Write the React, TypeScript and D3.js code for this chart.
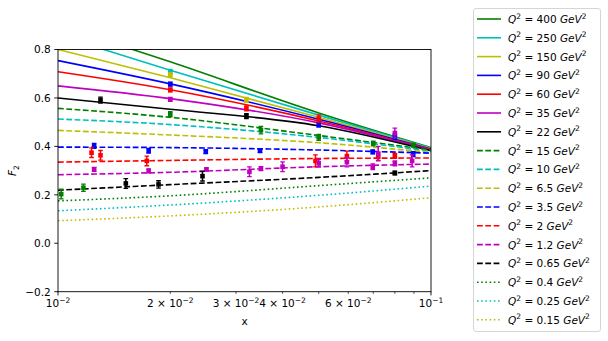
import React, { useEffect, useRef } from "react";
import * as d3 from "d3";

// Q^2 values of the fitted curves (legend order)
const q2Labels = ["400", "250", "150", "90", "60", "35", "22", "15", "10", "6.5", "3.5", "2", "1.2", "0.65", "0.4", "0.25", "0.15"];

const xGrid = [0.01, 0.02, 0.05, 0.1];

// F2 of each curve at xGrid, same order as q2Labels
const curveValues = [
  [0.901, 0.749, 0.538, 0.395],
  [0.859, 0.714, 0.529, 0.393],
  [0.8, 0.683, 0.52, 0.391],
  [0.754, 0.658, 0.512, 0.389],
  [0.708, 0.634, 0.505, 0.387],
  [0.65, 0.597, 0.497, 0.385],
  [0.6, 0.553, 0.485, 0.382],
  [0.557, 0.52, 0.445, 0.385],
  [0.513, 0.49, 0.437, 0.38],
  [0.466, 0.447, 0.415, 0.375],
  [0.397, 0.395, 0.385, 0.372],
  [0.335, 0.342, 0.35, 0.352],
  [0.283, 0.293, 0.316, 0.327],
  [0.219, 0.242, 0.272, 0.3],
  [0.175, 0.196, 0.238, 0.27],
  [0.134, 0.158, 0.198, 0.236],
  [0.093, 0.113, 0.15, 0.188],
];

// measured points: series (Q^2 label), x, F2, error
const pointQ2 = [
  "0.4", "0.4", "15", "15", "15", "15", "15",
  "3.5", "3.5", "3.5", "3.5", "3.5", "3.5", "90", "90", "90",
  "2", "2", "2", "2", "2", "2", "2", "60", "60", "60",
  "1.2", "1.2", "1.2", "1.2", "1.2", "1.2", "1.2", "1.2", "1.2", "1.2", "1.2", "1.2", "35", "35",
  "0.65", "0.65", "0.65", "0.65", "22", "22",
  "250", "150", "150",
];
const pointX = [
  0.0102, 0.0117, 0.02, 0.035, 0.05, 0.07, 0.0896,
  0.0125, 0.0175, 0.0249, 0.0348, 0.0698, 0.0896, 0.02, 0.05, 0.08,
  0.0123, 0.013, 0.0173, 0.049, 0.0595, 0.0722, 0.08, 0.02, 0.032, 0.05,
  0.0125, 0.0175, 0.025, 0.0326, 0.035, 0.04, 0.05, 0.0595, 0.0698, 0.0722, 0.08, 0.089, 0.02, 0.08,
  0.0152, 0.0186, 0.0244, 0.08, 0.013, 0.032,
  0.02, 0.02, 0.032,
];
const pointF = [
  0.203, 0.229, 0.533, 0.467, 0.437, 0.412, 0.405,
  0.402, 0.382, 0.378, 0.382, 0.377, 0.368, 0.657, 0.49, 0.44,
  0.374, 0.363, 0.34, 0.34, 0.36, 0.357, 0.361, 0.633, 0.557, 0.515,
  0.305, 0.299, 0.305, 0.295, 0.308, 0.316, 0.33, 0.335, 0.316, 0.37, 0.33, 0.34, 0.594, 0.455,
  0.247, 0.243, 0.277, 0.29, 0.591, 0.525,
  0.708, 0.695, 0.592,
];
const pointErr = [
  0.02, 0.015, 0.01, 0.015, 0.012, 0.01, 0.008,
  0.01, 0.01, 0.008, 0.008, 0.008, 0.01, 0.008, 0.01, 0.012,
  0.02, 0.02, 0.02, 0.025, 0.02, 0.015, 0.01, 0.008, 0.01, 0.015,
  0.008, 0.008, 0.006, 0.02, 0.008, 0.02, 0.015, 0.02, 0.012, 0.03, 0.01, 0.025, 0.008, 0.02,
  0.02, 0.015, 0.02, 0.008, 0.012, 0.01,
  0.01, 0.008, 0.01,
];

const xTicksMajor = [0.01, 0.1];
const xTicksMinor = [0.02, 0.03, 0.04, 0.05, 0.06, 0.07, 0.08, 0.09];
const xMinorLabels: Record<string, string> = { "0.02": "2", "0.03": "3", "0.04": "4", "0.06": "6" };
const yTicks = [-0.2, 0, 0.2, 0.4, 0.6, 0.8];

const palette = ["#008000", "#00bfbf", "#bfbf00", "#0000ff", "#ff0000", "#bf00bf", "#000000"];
const FONT = "'DejaVu Sans', sans-serif";

function styleFor(i: number) {
  const color = palette[i % 7];
  const dash = i < 7 ? null : i < 14 ? "5.8,2.5" : "1.6,2.6";
  return { color, dash };
}

export default function App() {
  const svgRef = useRef<SVGSVGElement | null>(null);

  useEffect(() => {
    if (!svgRef.current) return;
    const svg = d3.select(svgRef.current);
    svg.selectAll("*").remove();

    const left = 58, right = 431, top = 49.5, bottom = 291.7;
    const x = d3.scaleLog().domain([0.01, 0.1]).range([left, right]);
    const y = d3.scaleLinear().domain([-0.2, 0.8]).range([bottom, top]);

    svg.append("defs").append("clipPath").attr("id", "plotClip")
      .append("rect").attr("x", left).attr("y", top).attr("width", right - left).attr("height", bottom - top);

    const plot = svg.append("g").attr("clip-path", "url(#plotClip)");

    const line = d3.line<number>()
      .x((_, k) => x(xGrid[k]))
      .y((d) => y(d))
      .curve(d3.curveMonotoneX);

    curveValues.forEach((vals, i) => {
      const s = styleFor(i);
      plot.append("path")
        .attr("d", line(vals))
        .attr("fill", "none")
        .attr("stroke", s.color)
        .attr("stroke-width", 1.6)
        .attr("stroke-dasharray", s.dash);
    });

    // error bars + markers
    const pts = pointX.map((px, k) => ({ x: px, f: pointF[k], e: pointErr[k], i: q2Labels.indexOf(pointQ2[k]) }));
    const pg = plot.append("g");
    pts.forEach((p) => {
      const c = styleFor(p.i).color;
      const cx = x(p.x);
      const y0 = y(p.f - p.e), y1 = y(p.f + p.e);
      pg.append("line").attr("x1", cx).attr("x2", cx).attr("y1", y0).attr("y2", y1)
        .attr("stroke", c).attr("stroke-width", 1.5);
      [y0, y1].forEach((yy) => {
        pg.append("line").attr("x1", cx - 2.3).attr("x2", cx + 2.3).attr("y1", yy).attr("y2", yy)
          .attr("stroke", c).attr("stroke-width", 1.3);
      });
      pg.append("rect").attr("x", cx - 2.3).attr("y", y(p.f) - 2.3).attr("width", 4.6).attr("height", 4.6)
        .attr("fill", c);
    });

    // frame
    svg.append("rect").attr("x", left).attr("y", top).attr("width", right - left).attr("height", bottom - top)
      .attr("fill", "none").attr("stroke", "#000").attr("stroke-width", 0.9);

    // x ticks
    const ax = svg.append("g").attr("font-family", FONT).attr("font-size", 10.5).attr("fill", "#000");
    xTicksMajor.forEach((t) => {
      ax.append("line").attr("x1", x(t)).attr("x2", x(t)).attr("y1", bottom).attr("y2", bottom + 3.7)
        .attr("stroke", "#000").attr("stroke-width", 0.9);
      const txt = ax.append("text").attr("x", x(t)).attr("y", 307).attr("text-anchor", "middle");
      txt.append("tspan").text("10");
      txt.append("tspan").attr("dy", -4.5).attr("font-size", 7.5).text(t === 0.01 ? "\u22122" : "\u22121");
    });
    xTicksMinor.forEach((t) => {
      ax.append("line").attr("x1", x(t)).attr("x2", x(t)).attr("y1", bottom).attr("y2", bottom + 2.1)
        .attr("stroke", "#000").attr("stroke-width", 0.7);
      const lab = xMinorLabels[String(t)];
      if (lab) {
        const txt = ax.append("text").attr("x", x(t)).attr("y", 307).attr("text-anchor", "middle");
        txt.append("tspan").text(`${lab} \u00d7 10`);
        txt.append("tspan").attr("dy", -4.5).attr("font-size", 7.5).text("\u22122");
      }
    });

    // y ticks
    yTicks.forEach((t) => {
      ax.append("line").attr("x1", left - 3.7).attr("x2", left).attr("y1", y(t)).attr("y2", y(t))
        .attr("stroke", "#000").attr("stroke-width", 0.9);
      ax.append("text").attr("x", left - 7.3).attr("y", y(t) + 3.8).attr("text-anchor", "end")
        .text(d3.format(".1f")(t).replace("-", "\u2212"));
    });

    // axis labels
    ax.append("text").attr("x", 244.5).attr("y", 325).attr("text-anchor", "middle").text("x");
    const yl = ax.append("text").attr("transform", `translate(16,${(top + bottom) / 2}) rotate(-90)`)
      .attr("text-anchor", "middle");
    yl.append("tspan").attr("font-style", "italic").text("F");
    yl.append("tspan").attr("dy", 2.5).attr("font-size", 7.5).text("2");

    // legend
    const lg = svg.append("g").attr("font-family", FONT).attr("font-size", 10.5);
    lg.append("rect").attr("x", 473.5).attr("y", 8.5).attr("width", 127).attr("height", 323).attr("rx", 2.5)
      .attr("fill", "#fff").attr("stroke", "#d0d0d0").attr("stroke-width", 0.9);
    q2Labels.forEach((q, i) => {
      const s = styleFor(i);
      const yy = 19 + i * 18.8;
      lg.append("line").attr("x1", 477).attr("x2", 501).attr("y1", yy).attr("y2", yy)
        .attr("stroke", s.color).attr("stroke-width", 1.6).attr("stroke-dasharray", s.dash);
      const t = lg.append("text").attr("x", 508).attr("y", yy + 4);
      t.append("tspan").attr("font-style", "italic").text("Q");
      t.append("tspan").attr("dy", -4.5).attr("font-size", 7.5).text("2");
      t.append("tspan").attr("dy", 4.5).text(` = ${q} `);
      t.append("tspan").attr("font-style", "italic").text("GeV");
      t.append("tspan").attr("dy", -4.5).attr("font-size", 7.5).text("2");
    });
  }, []);

  return (
    <div style={{ position: "absolute", left: 0, top: 0 }}>
      <svg ref={svgRef} width={608} height={341} style={{ display: "block", background: "#fff" }} />
    </div>
  );
}
